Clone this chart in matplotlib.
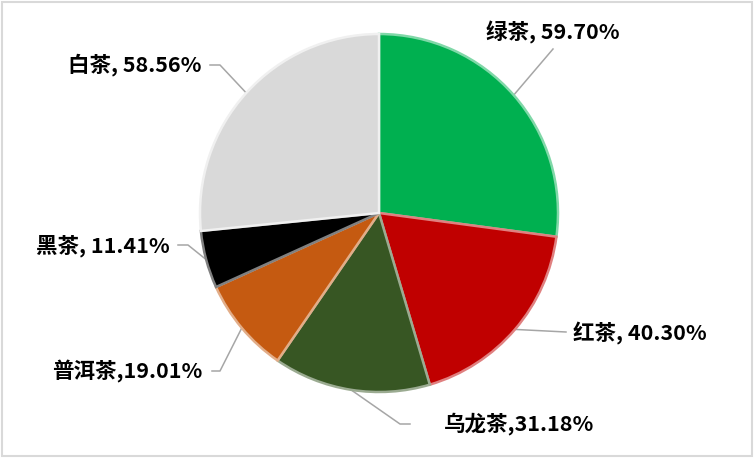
import numpy as np
import matplotlib
matplotlib.use("Agg")
import matplotlib.pyplot as plt
from matplotlib.patches import Rectangle
from matplotlib.colors import to_rgb

plt.rcParams['font.family'] = ['Noto Sans CJK SC', 'DejaVu Sans']

# data
names = ['绿茶', '红茶', '乌龙茶', '普洱茶', '黑茶', '白茶']
values = [59.70, 40.30, 31.18, 19.01, 11.41, 58.56]
seps = [' ', ' ', '', '', ' ', ' ']
colors = ['#00B050', '#C00000', '#375623', '#C55A11', '#000000', '#D9D9D9']

W, H = 754, 472
cx, cy, r = 379, 213, 179   # pixel coords, y from top

# label layout (pixel coords, y from top)
text_pos = [(553, 32), (573, 333), (444, 424), (202, 371), (170, 246), (202, 65)]
text_ha = ['center', 'left', 'left', 'right', 'right', 'right']
elbows = [[(553, 49)],
          [(566, 332)],
          [(400, 424), (410, 424)],
          [(220, 371), (212, 371)],
          [(188, 245), (178, 245)],
          [(220, 65), (210, 65)]]


def fy(y):
    return H - y


def tint(c, a=0.5):
    rgb = np.array(to_rgb(c))
    return tuple(rgb + (1 - rgb) * a)


fig = plt.figure(figsize=(W / 100, H / 100), dpi=100)
ax = fig.add_axes([0, 0, 1, 1])

wedges, _ = ax.pie(values, colors=colors, startangle=90, counterclock=False,
                   center=(cx, fy(cy)), radius=r,
                   wedgeprops=dict(linewidth=1.8))
for w, c in zip(wedges, colors):
    w.set_edgecolor(tint(c, 0.5 if c != '#D9D9D9' else 0.6))

ax.set_xlim(0, W)
ax.set_ylim(0, H)
ax.set_aspect('equal')
ax.axis('off')

for i, w in enumerate(wedges):
    mid = np.deg2rad((w.theta1 + w.theta2) / 2)
    px = cx + r * np.cos(mid)
    py = fy(cy) + r * np.sin(mid)
    xs = [px] + [p[0] for p in elbows[i]]
    ys = [py] + [fy(p[1]) for p in elbows[i]]
    ax.plot(xs, ys, color='#A6A6A6', lw=1.1, zorder=0.5)
    label = f"{names[i]},{seps[i]}{values[i]:.2f}%"
    tx, ty = text_pos[i]
    ax.text(tx, fy(ty), label, ha=text_ha[i], va='center',
            fontsize=15.5, fontweight='bold', color='black')

fig.add_artist(Rectangle((1.5 / W, fy(456) / H), 750 / W, 454.5 / H,
                         transform=fig.transFigure, fill=False,
                         edgecolor='#D9D9D9', lw=1.5))

fig.savefig('out.png', dpi=100)
